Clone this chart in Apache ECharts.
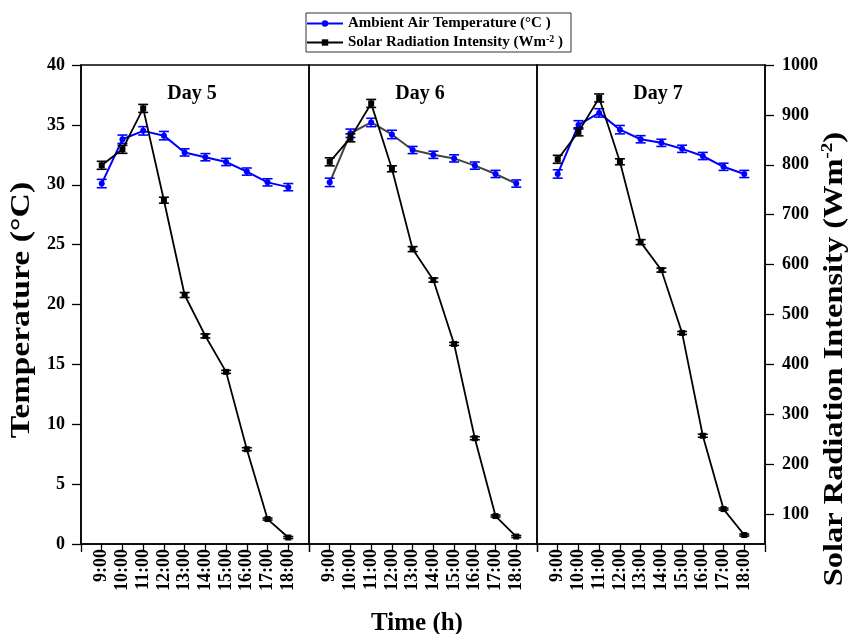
<!DOCTYPE html>
<html>
<head>
<meta charset="utf-8">
<script src="https://cdn.jsdelivr.net/npm/echarts@6/dist/echarts.min.js"></script>
<style>html,body{margin:0;padding:0;background:#fff}#c{width:854px;height:634px}</style>
</head>
<body>
<div id="c"></div>
<script>
const times = ['9:00','10:00','11:00','12:00','13:00','14:00','15:00','16:00','17:00','18:00'];
const days = ['Day 5','Day 6','Day 7'];
const tempName = 'Ambient Air Temperature (°C )';
const radName = 'Solar Radiation Intensity (Wm-2 )';
const xTitle = 'Time (h)';
const yLeftTitle = 'Temperature (°C)';
const yRightTitle = 'Solar Radiation Intensity (Wm{sup|-2})';

const tempDay5 = [30.1, 33.8, 34.5, 34.1, 32.7, 32.3, 31.9, 31.1, 30.2, 29.8];
const tempDay6 = [30.2, 34.3, 35.2, 34.2, 32.9, 32.5, 32.2, 31.6, 30.9, 30.1];
const tempDay7 = [30.9, 35.0, 36.0, 34.6, 33.8, 33.5, 33.0, 32.4, 31.5, 30.9];
const radDay5 = [799, 831, 913, 729, 539, 457, 385, 230, 90, 53];
const radDay6 = [806, 854, 923, 792, 631, 569, 441, 252, 96, 55];
const radDay7 = [811, 866, 934, 806, 645, 589, 463, 257, 110, 58];
const tempErr = [0.35, 0.35, 0.35, 0.35, 0.3, 0.3, 0.3, 0.3, 0.3, 0.3];
const radErr = [8, 8, 8, 6, 5, 4, 3, 3, 2, 2];
const radTicks = [100, 200, 300, 400, 500, 600, 700, 800, 900, 1000];

const temps = [tempDay5, tempDay6, tempDay7];
const rads = [radDay5, radDay6, radDay7];
const tempLineColors = ['#0000ff', '#444444', '#0000ff'];

const FONT = "'Liberation Serif','Times New Roman',serif";
const axisCats = [''].concat(times, ['']);

function errBarRender(color) {
  return function (params, api) {
    const xi = api.value(0), lo = api.value(1), hi = api.value(2);
    const a = api.coord([xi, lo]), b = api.coord([xi, hi]);
    const hw = 5;
    const st = { stroke: color, lineWidth: 1.6 };
    return { type: 'group', children: [
      { type: 'line', shape: { x1: a[0], y1: a[1], x2: b[0], y2: b[1] }, style: st },
      { type: 'line', shape: { x1: a[0] - hw, y1: a[1], x2: a[0] + hw, y2: a[1] }, style: st },
      { type: 'line', shape: { x1: b[0] - hw, y1: b[1], x2: b[0] + hw, y2: b[1] }, style: st }
    ]};
  };
}

const grids = [], xAxes = [], yAxes = [], series = [], titles = [];
const gLeft = [81, 309, 537];
const dayCenters = [192, 420, 658];
for (let g = 0; g < 3; g++) {
  grids.push({ left: gLeft[g], width: 228, top: 65, height: 479, containLabel: false, outerBoundsMode: 'none',
    show: true, borderColor: '#000', borderWidth: 1.5, backgroundColor: 'transparent' });
  xAxes.push({
    gridIndex: g, type: 'category', boundaryGap: false, data: axisCats,
    axisLine: { show: true, onZero: false, lineStyle: { color: '#000', width: 1.5 } },
    axisTick: { show: true, inside: false, length: 8, interval: 0, lineStyle: { color: '#000', width: 1.3 } },
    axisLabel: { rotate: 90, interval: 0, margin: 5, fontFamily: FONT, fontWeight: 'bold', fontSize: 18, color: '#000' },
    splitLine: { show: false },
    name: g === 1 ? xTitle : '', nameLocation: 'middle', nameGap: 67,
    nameTextStyle: { fontFamily: FONT, fontWeight: 'bold', fontSize: 25, color: '#000', padding: [0, 12, 0, 0] }
  });
  const showTemp = g === 0, showRad = g === 2;
  yAxes.push({
    gridIndex: g, type: 'value', position: 'left', min: 0, max: 40, interval: 5,
    show: showTemp,
    axisLine: { show: true, onZero: false, lineStyle: { color: '#000', width: 1.5 } },
    axisTick: { show: true, inside: false, length: 9, lineStyle: { color: '#000', width: 1.3 } },
    axisLabel: { margin: 16, fontFamily: FONT, fontWeight: 'bold', fontSize: 18, color: '#000' },
    splitLine: { show: false }
  });
  yAxes.push({
    gridIndex: g, type: 'value', position: 'right', min: 40, max: 1000,
    show: showRad,
    axisLine: { show: true, onZero: false, lineStyle: { color: '#000', width: 1.5 } },
    axisTick: { show: true, inside: false, length: 9, customValues: radTicks, lineStyle: { color: '#000', width: 1.3 } },
    axisLabel: { margin: 17, customValues: radTicks, formatter: v => String(v), fontFamily: FONT, fontWeight: 'bold', fontSize: 18, color: '#000' },
    splitLine: { show: false }
  });
  titles.push({ text: days[g], left: dayCenters[g], top: 84, textAlign: 'center', padding: 0,
    textStyle: { fontFamily: FONT, fontWeight: 'bold', fontSize: 20, color: '#000' } });

  const tData = temps[g].map((v, i) => [times[i], v]);
  const rData = rads[g].map((v, i) => [times[i], v]);
  const tErrData = temps[g].map((v, i) => [times[i], v - tempErr[i], v + tempErr[i]]);
  const rErrData = rads[g].map((v, i) => [times[i], v - radErr[i], v + radErr[i]]);

  series.push({
    name: tempName, type: 'line', xAxisIndex: g, yAxisIndex: 2 * g, data: tData,
    symbol: 'circle', symbolSize: 6, itemStyle: { color: '#0000ff' },
    lineStyle: { color: tempLineColors[g], width: 2 }, z: 3, animation: false
  });
  series.push({
    name: 'tErr' + g, type: 'custom', xAxisIndex: g, yAxisIndex: 2 * g, data: tErrData,
    encode: { x: 0, y: [1, 2] }, renderItem: errBarRender('#0000ff'), z: 4, animation: false, silent: true
  });
  series.push({
    name: radName, type: 'line', xAxisIndex: g, yAxisIndex: 2 * g + 1, data: rData,
    symbol: 'rect', symbolSize: 6, itemStyle: { color: '#000' },
    lineStyle: { color: '#000', width: 1.8 }, z: 5, animation: false
  });
  series.push({
    name: 'rErr' + g, type: 'custom', xAxisIndex: g, yAxisIndex: 2 * g + 1, data: rErrData,
    encode: { x: 0, y: [1, 2] }, renderItem: errBarRender('#000'), z: 6, animation: false, silent: true
  });
}

const chart = echarts.init(document.getElementById('c'), null, { renderer: 'canvas' });
chart.setOption({
  backgroundColor: '#fff',
  animation: false,
  title: titles,
  legend: {
    data: [tempName, radName], orient: 'vertical', left: 306, top: 13,
    itemWidth: 36, itemHeight: 8, itemGap: 3, padding: [3, 8, 2, 0],
    borderColor: '#333', borderWidth: 1,
    formatter: function (n) { return n === radName ? 'Solar Radiation Intensity (Wm{sup|-2} )' : n; },
    textStyle: { fontFamily: FONT, fontWeight: 'bold', fontSize: 15, color: '#000',
      rich: { sup: { fontFamily: FONT, fontWeight: 'bold', fontSize: 10, color: '#000', verticalAlign: 'top', padding: [0, 0, 7, 0] } } }
  },
  graphic: [
    { type: 'text', x: 22, y: 310, rotation: Math.PI / 2, scaleX: 1.25, scaleY: 1,
      style: { text: yLeftTitle, fontFamily: FONT, fontWeight: 'bold', fontSize: 27, fill: '#000', align: 'center', verticalAlign: 'middle' } },
    { type: 'text', x: 835, y: 359, rotation: Math.PI / 2, scaleX: 1.2, scaleY: 1,
      style: { text: yRightTitle, fontFamily: FONT, fontWeight: 'bold', fontSize: 27, fill: '#000', align: 'center', verticalAlign: 'middle',
        rich: { sup: { fontFamily: FONT, fontWeight: 'bold', fontSize: 16, fill: '#000', verticalAlign: 'top', padding: [0, 0, 14, 0] } } } }
  ],
  grid: grids, xAxis: xAxes, yAxis: yAxes, series: series
});
</script>
</body>
</html>
